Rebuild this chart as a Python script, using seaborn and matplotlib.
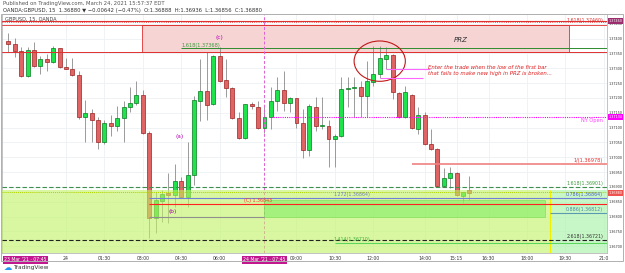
import numpy as np
import pandas as pd
import matplotlib.pyplot as plt
import matplotlib.patches as mpatches
import seaborn as sns

# GBPUSD 15 min bars, bar 0 = 24 Mar 00:00
bar_index = list(range(-9, 64))
opens = [
    1.37392, 1.37382, 1.37358, 1.37273, 1.37361, 1.37307, 1.37331, 1.37321, 1.37368, 1.37304,
    1.37297, 1.37277, 1.37134, 1.37148, 1.37124, 1.37050, 1.37114, 1.37104, 1.37131, 1.37168,
    1.37182, 1.37209, 1.37083, 1.36795, 1.36853, 1.36880, 1.36873, 1.36921, 1.36866, 1.36941,
    1.37189, 1.37222, 1.37178, 1.37341, 1.37260, 1.37233, 1.37131, 1.37066, 1.37178, 1.37168,
    1.37097, 1.37134, 1.37189, 1.37226, 1.37182, 1.37199, 1.37117, 1.37026, 1.37168, 1.37104,
    1.37104, 1.37063, 1.37070, 1.37229, 1.37233, 1.37236, 1.37205, 1.37253, 1.37280, 1.37331,
    1.37344, 1.37216, 1.37134, 1.37209, 1.37094, 1.37144, 1.37046, 1.37029, 1.36904, 1.36931,
    1.36948, 1.36870, 1.36888,
]
highs = [
    1.37419, 1.37402, 1.37372, 1.37372, 1.37388, 1.37341, 1.37348, 1.37375, 1.37370, 1.37334,
    1.37334, 1.37290, 1.37192, 1.37161, 1.37134, 1.37127, 1.37144, 1.37172, 1.37189, 1.37236,
    1.37256, 1.37226, 1.37090, 1.36883, 1.36890, 1.36948, 1.36978, 1.36934, 1.37053, 1.37205,
    1.37331, 1.37355, 1.37344, 1.37372, 1.37331, 1.37236, 1.37151, 1.37180, 1.37185, 1.37189,
    1.37172, 1.37236, 1.37270, 1.37290, 1.37202, 1.37200, 1.37161, 1.37180, 1.37202, 1.37202,
    1.37127, 1.37077, 1.37270, 1.37270, 1.37270, 1.37256, 1.37324, 1.37375, 1.37375, 1.37372,
    1.37348, 1.37219, 1.37239, 1.37212, 1.37168, 1.37151, 1.37094, 1.37032, 1.36965, 1.36968,
    1.36951, 1.36883, 1.36936,
]
lows = [
    1.37355, 1.37338, 1.37270, 1.37270, 1.37304, 1.37280, 1.37290, 1.37317, 1.37300, 1.37297,
    1.37273, 1.37130, 1.37053, 1.37050, 1.37029, 1.37046, 1.37070, 1.37087, 1.37050, 1.37151,
    1.37175, 1.37077, 1.36727, 1.36744, 1.36782, 1.36778, 1.36833, 1.36863, 1.36833, 1.36907,
    1.37121, 1.37127, 1.37175, 1.37253, 1.37202, 1.37128, 1.37060, 1.37060, 1.37161, 1.37094,
    1.37083, 1.37094, 1.37155, 1.37155, 1.37151, 1.37100, 1.36999, 1.37005, 1.37087, 1.37094,
    1.36968, 1.36968, 1.37068, 1.37168, 1.37134, 1.37134, 1.37134, 1.37239, 1.37266, 1.37297,
    1.37195, 1.37131, 1.37131, 1.37094, 1.37077, 1.37040, 1.37026, 1.36900, 1.36900, 1.36897,
    1.36870, 1.36846, 1.36856,
]
closes = [
    1.37382, 1.37358, 1.37273, 1.37361, 1.37307, 1.37331, 1.37321, 1.37368, 1.37304, 1.37297,
    1.37277, 1.37134, 1.37148, 1.37124, 1.37050, 1.37114, 1.37104, 1.37131, 1.37168, 1.37182,
    1.37209, 1.37083, 1.36795, 1.36856, 1.36877, 1.36873, 1.36921, 1.36866, 1.36941, 1.37192,
    1.37222, 1.37175, 1.37341, 1.37256, 1.37233, 1.37131, 1.37066, 1.37178, 1.37172, 1.37097,
    1.37134, 1.37189, 1.37226, 1.37182, 1.37199, 1.37117, 1.37026, 1.37172, 1.37104, 1.37107,
    1.37063, 1.37070, 1.37229, 1.37233, 1.37236, 1.37205, 1.37256, 1.37280, 1.37334, 1.37344,
    1.37219, 1.37134, 1.37219, 1.37100, 1.37144, 1.37043, 1.37029, 1.36904, 1.36931, 1.36948,
    1.36873, 1.36883, 1.36880,
]

# time axis
time_ticks = [0, 6, 12, 18, 24, 36, 42, 48, 56, 61, 66, 72, 78, 84]
time_labels = ["24", "01:30", "03:00", "04:30", "06:00", "09:00", "10:30", "12:00",
               "14:00", "15:15", "16:30", "18:00", "19:30", "21:0"]

# drawn levels
prz_top, prz_bottom = 1.37446, 1.37355
top_line = 1.37460
fib_c = 1.37368
ny_open = 1.37134
target_1 = 1.36978
fib_1618_low = 1.36901
last_price = closes[-1]
fib_1272 = 1.36864
point_c = 1.36843
point_b = 1.36799
fib_0886 = 1.36812
fib_2618 = 1.36721
fib_1414 = 1.36710
zone_top = 1.36890
london_bar = 31

sns.set_theme(style="white")
plt.rcParams["font.family"] = ["DejaVu Sans"]

fig = plt.figure(figsize=(6.25, 2.73), dpi=100)
ax = fig.add_axes([2 / 625, 1 - 253 / 273, 605 / 625, 239 / 273])

x0, x1 = -10, 84.5
y0, y1 = 1.36677, 1.37483
xr = 83.9  # right edge for level labels

# grid
yticks = np.round(np.arange(1.3670, 1.37451, 0.0005), 4)
ax.set_yticks(yticks)
ax.set_yticklabels([f"{v:.5f}" for v in yticks])
ax.set_xticks(time_ticks)
ax.set_xticklabels(time_labels)
ax.grid(True, color="#eef1f5", lw=0.6, zorder=0)
ax.yaxis.tick_right()
ax.tick_params(axis="x", length=0, labelsize=3.3, labelcolor="#333333", pad=2)
ax.tick_params(axis="y", length=0, labelsize=2.4, labelcolor="#333333", pad=1.5)
for side in ["top", "left", "right", "bottom"]:
    ax.spines[side].set_color("#b8b8b8")
    ax.spines[side].set_linewidth(0.6)

df = pd.DataFrame({"bar": bar_index, "open": opens, "high": highs,
                   "low": lows, "close": closes})
df["body_low"] = df[["open", "close"]].min(axis=1)
df["body"] = (df["close"] - df["open"]).abs().clip(lower=0.00001)
df["up"] = df["close"] >= df["open"]

# wicks
ax.vlines(df["bar"], df["low"], df["high"], color="#8a8a8a", lw=0.6, zorder=2)

# bodies
for is_up, face, edge in [(True, "#1fe34a", "#0a7a22"), (False, "#e06464", "#9e2222")]:
    sub = df[df["up"] == is_up]
    sns.barplot(data=sub, x="bar", y="body", bottom=sub["body_low"].values,
                native_scale=True, errorbar=None, color=face, saturation=1,
                edgecolor=edge, linewidth=0.5, width=0.62, ax=ax, zorder=3)
ax.set_xlabel("")
ax.set_ylabel("")
ax.set_xlim(x0, x1)
ax.set_ylim(y0, y1)

# PRZ zone
ax.add_patch(mpatches.Rectangle((11.9, prz_bottom), 78.6 - 11.9, prz_top - prz_bottom,
                                fc="#f6d4d4", ec="#e03030", lw=0.6, zorder=1))
ax.axhline(top_line, color="#e03030", lw=0.8, zorder=4)
ax.axhline(top_line - 0.00005, color="#e03030", lw=0.6, ls=":", zorder=4)
ax.axhline(prz_top, color="#e03030", lw=0.6, zorder=4)
ax.axhline(prz_bottom, color="#e03030", lw=0.7, zorder=4)
ax.hlines(fib_c, 18, x1, color="#2e8b2e", lw=0.7, zorder=4)
ax.text(18, fib_c + 0.00002, f"1.618({fib_c:.5f})", color="#3c9a3c", fontsize=3.6,
        ha="left", va="bottom", zorder=5)
ax.text(61.6, 1.37395, "PRZ", color="#333333", fontsize=5, style="italic",
        ha="center", va="center", zorder=5)
ax.text(xr, top_line, f"1.618({top_line:.5f})", color="#e03030", fontsize=3.4,
        ha="right", va="center", zorder=5)

# London / NY markers
ax.axvline(london_bar, color="#e060d0", lw=0.7, ls=(0, (3, 2)), zorder=4)
ax.hlines(ny_open, 32, x1, color="#ff00ff", lw=0.8, ls=(0, (1, 1)), zorder=4)
ax.text(xr, ny_open - 0.00003, "NY Open", color="#ff40ff", fontsize=3.6,
        ha="right", va="top", zorder=5)

# wave labels
ax.text(24, 1.37405, "(c)", color="#b000b0", fontsize=4.2, ha="center", va="center", zorder=5)
ax.text(17.8, 1.37070, "(a)", color="#b000b0", fontsize=4.2, ha="center", va="center", zorder=5)
ax.text(16.6, 1.36816, "(b)", color="#b000b0", fontsize=4.2, ha="center", va="center", zorder=6)

# entry note
ax.add_patch(mpatches.Ellipse((49, 1.37324), 8, 0.00136, fill=False, ec="#c01818",
                              lw=0.8, zorder=5))
ax.hlines(lows[bar_index.index(50)], 50, 56.9, color="#ff66ff", lw=0.8, zorder=5)
ax.hlines(lows[bar_index.index(49)], 49, 55.8, color="#ff66ff", lw=0.8, zorder=5)
ax.text(56.6, 1.37312, "Enter the trade when the low of the first bar\n"
        "that fails to make new high in PRZ is broken...",
        color="#e02020", fontsize=3.9, style="italic", ha="left", va="top",
        linespacing=1.25, zorder=5)

# target line
ax.hlines(target_1, 54, x1, color="#f08080", lw=1.2, zorder=4)
ax.text(xr, target_1 + 0.00002, f"1/({target_1:.5f})", color="#e03030", fontsize=3.6,
        ha="right", va="bottom", zorder=5)

# bottom zones (drawn over the candles, semi transparent)
ax.add_patch(mpatches.Rectangle((x0, y0), 75.6 - x0, zone_top - y0, fc="#c1f361",
                                ec="none", alpha=0.6, zorder=4))
ax.add_patch(mpatches.Rectangle((75.6, y0), x1 - 75.6, zone_top - y0, fc="#a3f3a3",
                                ec="none", alpha=0.6, zorder=4))
ax.add_patch(mpatches.Rectangle((31, point_b), 74.8 - 31, 1.36856 - point_b, fc="#82ee66",
                                ec="#60d040", lw=0.5, alpha=0.6, zorder=4))
ax.vlines(75.6, y0, zone_top, color="#f0f000", lw=0.8, zorder=5)

ax.axhline(fib_1618_low, color="#3f8f4f", lw=0.8, ls=(0, (4, 2)), zorder=5)
ax.axhline(last_price + 0.00003, color="#b0d000", lw=0.7, ls=(0, (1, 1)), zorder=5)
ax.hlines(fib_1272, 13, x1, color="#7080d8", lw=0.8, zorder=5)
ax.hlines(point_c, 13, x1, color="#ff2020", lw=0.8, zorder=5)
ax.hlines(point_b, 13, 31, color="#909090", lw=0.8, zorder=5)
ax.hlines(fib_0886, 75.6, x1, color="#5b9bb0", lw=0.8, zorder=5)
ax.axhline(fib_2618, color="#222222", lw=0.8, ls=(0, (4, 2)), zorder=5)
ax.hlines(fib_1414, 42, x1, color="#5cd65c", lw=0.8, zorder=5)

ax.text(xr, fib_1618_low + 0.00002, f"1.618({fib_1618_low:.5f})", color="#3c9a3c",
        fontsize=3.4, ha="right", va="bottom", zorder=6)
ax.text(xr, fib_1272 + 0.00002, f"0.786({fib_1272:.5f})", color="#5060c8",
        fontsize=3.4, ha="right", va="bottom", zorder=6)
ax.text(44.7, fib_1272 + 0.00002, f"1.272({fib_1272:.5f})", color="#7080c0",
        fontsize=3.4, ha="center", va="bottom", zorder=6)
ax.text(30, point_c + 0.00002, f"(C) {point_c:.5f}", color="#ff3030",
        fontsize=3.4, ha="center", va="bottom", zorder=6)
ax.text(xr, fib_0886 + 0.00002, f"0.886({fib_0886:.5f})", color="#4a8aa0",
        fontsize=3.4, ha="right", va="bottom", zorder=6)
ax.text(xr, fib_2618 + 0.00002, f"2.618({fib_2618:.5f})", color="#333333",
        fontsize=3.4, ha="right", va="bottom", zorder=6)
ax.text(44.7, fib_1414 + 0.00004, f"1.414({fib_1414:.5f})", color="#3cb03c",
        fontsize=3.4, ha="center", va="bottom", zorder=6)

ax.text(0.005, 0.978, "GBPUSD, 15, OANDA", transform=ax.transAxes, color="#444444",
        fontsize=3.6, ha="left", va="center", zorder=6)

# price axis tags
ytr = ax.get_yaxis_transform()
for price, face in [(top_line, "#9b2d6e"), (ny_open, "#ff00ff"), (last_price, "#ef5350")]:
    ax.text(1.003, price, f"{price:.5f}", transform=ytr, color="white", fontsize=2.4,
            ha="left", va="center", clip_on=False, zorder=7,
            bbox=dict(boxstyle="square,pad=0.3", fc=face, ec="none"))

# time axis tags
xtr = ax.get_xaxis_transform()
ax.text(-9.7, -0.018, "23 Mar '21 · 07:45", transform=xtr, color="white", fontsize=3.3,
        ha="left", va="top", clip_on=False, zorder=7,
        bbox=dict(boxstyle="square,pad=0.3", fc="#c2188f", ec="none"))
ax.text(london_bar, -0.018, "24 Mar '21 · 07:45", transform=xtr, color="white",
        fontsize=3.3, ha="center", va="top", clip_on=False, zorder=7,
        bbox=dict(boxstyle="square,pad=0.3", fc="#c2188f", ec="none"))

# header / footer
fig.text(3 / 625, 1 - 4 / 273, "Published on TradingView.com, March 24, 2021 15:57:37 EDT",
         fontsize=3.8, color="#555555", va="center")
fig.text(3 / 625, 1 - 10.5 / 273, "OANDA:GBPUSD, 15  1.36880 ▼ −0.00642 (−0.47%)  "
         "O:1.36888  H:1.36936  L:1.36856  C:1.36880",
         fontsize=3.8, color="#333333", va="center")
fig.add_artist(mpatches.Rectangle((1 / 625, 12 / 273), 622 / 625, 247 / 273, fill=False,
                                  ec="#b0b0b0", lw=0.7, transform=fig.transFigure))
fig.text(4 / 625, 1 - 268 / 273, "☁", fontsize=6, color="#2196f3", va="center")
fig.text(13 / 625, 1 - 268 / 273, "TradingView", fontsize=4.2, color="#333333", va="center")

fig.savefig("out.png", dpi=100)
